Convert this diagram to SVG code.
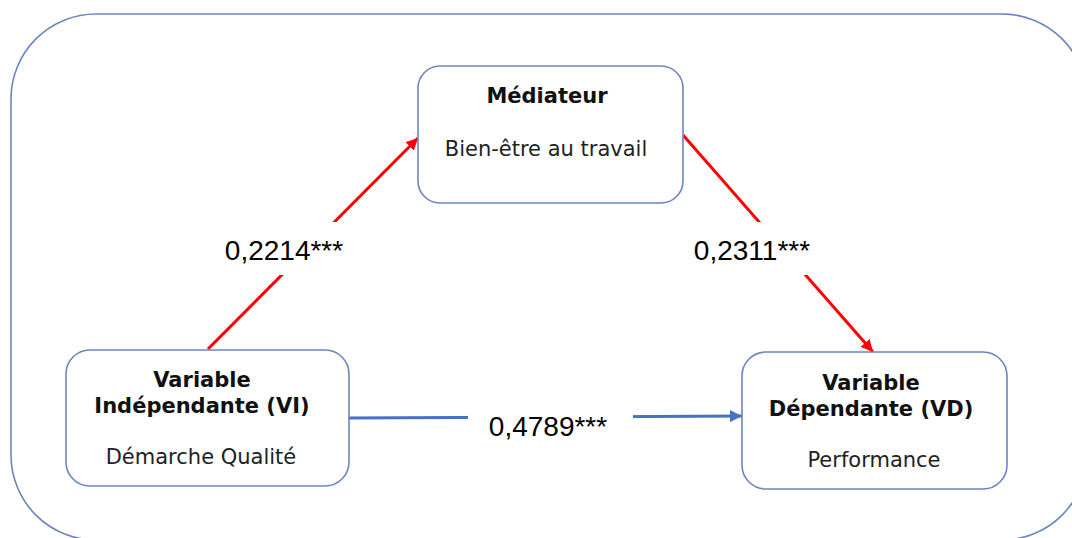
<svg xmlns="http://www.w3.org/2000/svg" width="1072" height="538" viewBox="0 0 1072 538">
<style>
.box{fill:#fff;stroke:#6A86BD;stroke-width:1.6}
.t{font-family:"DejaVu Sans",Verdana,sans-serif;font-size:21px;fill:#222;text-anchor:middle}
.b{font-weight:bold;fill:#111}
.lab{font-family:"Liberation Sans",Arial,sans-serif;font-size:28px;fill:#000;text-anchor:middle}
.red{stroke:#FF0000;stroke-width:3;fill:none}
.blue{stroke:#4472C4;stroke-width:3;fill:none}
</style>
<defs>
<marker id="ar" viewBox="0 0 10 10" refX="10" refY="5" markerWidth="4" markerHeight="4" orient="auto" markerUnits="strokeWidth"><path d="M0,0 L10,5 L0,10 z" fill="#FF0000"/></marker>
<marker id="ab" viewBox="0 0 10 10" refX="10" refY="5" markerWidth="4" markerHeight="4" orient="auto" markerUnits="strokeWidth"><path d="M0,0 L10,5 L0,10 z" fill="#4472C4"/></marker>
</defs>
<rect width="1072" height="538" fill="#fff"/>
<rect x="11" y="14" width="1076" height="526" rx="85" ry="85" fill="none" stroke="#6A86BD" stroke-width="1.6"/>
<g id="connectors">
<line class="red" x1="208" y1="349" x2="418" y2="138" marker-end="url(#ar)"/>
<line class="red" x1="683" y1="135" x2="873" y2="352" marker-end="url(#ar)"/>
<line class="blue" x1="349" y1="418" x2="742" y2="416" marker-end="url(#ab)"/>
<rect x="215" y="222" width="140" height="53" fill="#fff"/>
<rect x="682" y="222" width="140" height="53" fill="#fff"/>
<rect x="468" y="400" width="165" height="40" fill="#fff"/>
<text class="lab" x="284" y="260">0,2214***</text>
<text class="lab" x="752" y="260">0,2311***</text>
<text class="lab" x="548" y="436">0,4789***</text>
</g>
<g id="mediateur">
<rect class="box" x="418" y="66" width="265" height="137" rx="22"/>
<text class="t b" x="547" y="103">Médiateur</text>
<text class="t" x="546" y="156">Bien-être au travail</text>
</g>
<g id="vi">
<rect class="box" x="66" y="350" width="283" height="136" rx="24"/>
<text class="t b" x="202" y="387">Variable</text>
<text class="t b" x="202" y="413">Indépendante (VI)</text>
<text class="t" x="201" y="464">Démarche Qualité</text>
</g>
<g id="vd">
<rect class="box" x="742" y="352" width="265" height="137" rx="24"/>
<text class="t b" x="871" y="390">Variable</text>
<text class="t b" x="871" y="416">Dépendante (VD)</text>
<text class="t" x="874" y="467">Performance</text>
</g>
</svg>
